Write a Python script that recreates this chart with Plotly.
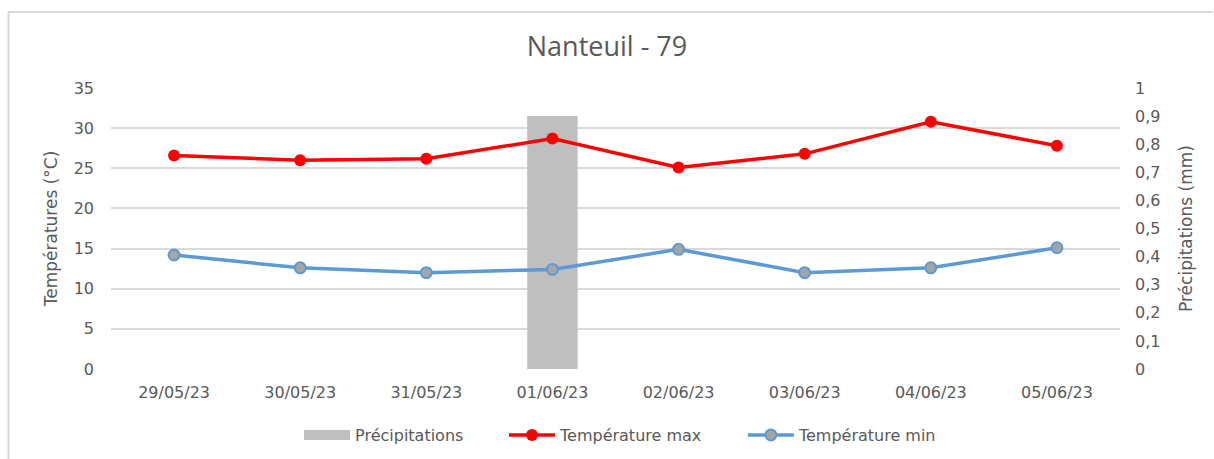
import plotly.graph_objects as go

dates = ["29/05/23", "30/05/23", "31/05/23", "01/06/23", "02/06/23", "03/06/23", "04/06/23", "05/06/23"]
precip = [0, 0, 0, 0.9, 0, 0, 0, 0]
tmax = [26.6, 26.0, 26.2, 28.7, 25.1, 26.8, 30.8, 27.8]
tmin = [14.2, 12.6, 12.0, 12.4, 14.9, 12.0, 12.6, 15.1]

W, H = 1214, 459
L, R, T, B = 111, 94, 88, 90
pw, ph = W - L - R, H - T - B

def px(x):
    return (x - L) / pw

def py(y):
    return (H - B - y) / ph

txt = "#595959"
font = "DejaVu Sans"
pad = "\u00a0" * 7

fig = go.Figure()
fig.add_trace(go.Bar(x=dates, y=precip, name="Précipitations", marker=dict(color="#BFBFBF", line=dict(width=0)),
                     yaxis="y", showlegend=False))
# legend swatch for precipitation (wide gray band like the reference)
fig.add_trace(go.Scatter(x=[None], y=[None], name="Précipitations" + pad, mode="lines",
                         line=dict(color="#BFBFBF", width=11), yaxis="y"))
fig.add_trace(go.Scatter(x=dates, y=tmax, name="Température max" + pad, mode="lines+markers",
                         line=dict(color="#FF0000", width=3.5),
                         marker=dict(color="#FF0000", size=12), yaxis="y2"))
fig.add_trace(go.Scatter(x=dates, y=tmin, name="Température min", mode="lines+markers",
                         line=dict(color="#5B9BD5", width=3.5),
                         marker=dict(color="#A5A5A5", size=11, line=dict(color="#5B9BD5", width=2)),
                         yaxis="y2"))

fig.update_layout(
    width=W, height=H,
    margin=dict(l=L, r=R, t=T, b=B),
    paper_bgcolor="white", plot_bgcolor="white",
    separators=", ",
    bargap=0.6,
    font=dict(family=font, size=16, color=txt),
    title=dict(text="Nanteuil - 79", x=0.5, xanchor="center", y=1 - 47 / H, yanchor="middle",
               font=dict(family="Open Sans", size=27, color=txt)),
    xaxis=dict(showgrid=False, showline=False, ticks="", ticklabelstandoff=12,
               tickfont=dict(size=16, color=txt)),
    yaxis=dict(side="right", range=[0, 1], dtick=0.1, showgrid=False, zeroline=False,
               showline=False, ticklabelstandoff=14, tickformat=".1~f",
               tickfont=dict(size=16, color=txt),
               title=dict(text="Précipitations (mm)", standoff=20, font=dict(size=17, color=txt))),
    yaxis2=dict(side="left", overlaying="y", range=[0, 35], dtick=5, showgrid=True,
                gridcolor="#D9D9D9", gridwidth=1.5, zeroline=False, showline=False,
                ticklabelstandoff=16, tickfont=dict(size=16, color=txt),
                title=dict(text="Températures (°C)", standoff=11, font=dict(size=17, color=txt))),
    legend=dict(orientation="h", x=0.505, xanchor="center", yref="container", y=(H - 435) / H,
                yanchor="middle", font=dict(size=16, color=txt), traceorder="normal", itemwidth=46),
    showlegend=True,
    shapes=[
        dict(type="line", xref="paper", yref="paper", x0=px(8), x1=px(1213), y0=py(12), y1=py(12),
             line=dict(color="#D9D9D9", width=2)),
        dict(type="line", xref="paper", yref="paper", x0=px(8.5), x1=px(8.5), y0=py(12), y1=py(470),
             line=dict(color="#D9D9D9", width=2)),
    ],
)

fig.write_html("out.html", config={"displayModeBar": False},
               post_script="document.body.style.margin='0';document.body.style.overflow='hidden';")
